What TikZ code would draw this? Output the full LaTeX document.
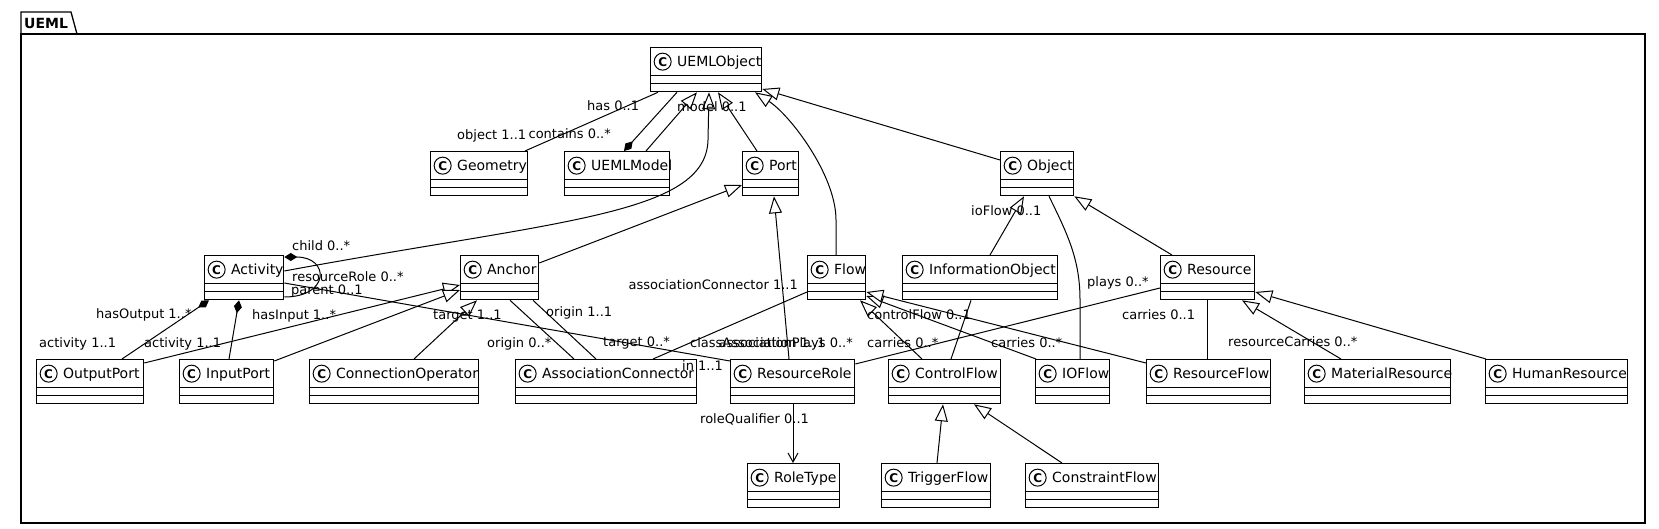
\documentclass[tikz,border=0pt]{standalone}
\usepackage{fontspec}
\setmainfont{DejaVu Sans}
\usetikzlibrary{arrows.meta,calc}
\newcommand{\umlcn}[1]{\hspace*{26.5pt}\mbox{#1}}
\tikzset{
  cls/.style={draw, line width=1.3pt, fill=white, anchor=north west,
    inner xsep=0pt, inner ysep=0pt, minimum height=44pt, text width=#1,
    align=left, text height=10pt, text depth=16pt,
    font=\fontsize{14pt}{16pt}\selectfont,
    path picture={
      \draw[line width=1.3pt] ([yshift=-28pt]path picture bounding box.north west) -- ([yshift=-28pt]path picture bounding box.north east);
      \draw[line width=1.3pt] ([yshift=-36pt]path picture bounding box.north west) -- ([yshift=-36pt]path picture bounding box.north east);
      \draw[line width=1pt, fill=white] ([xshift=12pt,yshift=-14pt]path picture bounding box.north west) circle[radius=8.5pt];
      \pgftext[at={\pgfpointadd{\pgfpointanchor{path picture bounding box}{north west}}{\pgfpoint{12pt}{-14pt}}}]{\fontsize{12pt}{12pt}\selectfont\bfseries C};
    }},
  lbl/.style={inner sep=0pt, font=\fontsize{13pt}{15pt}\selectfont, text height=9.5pt, text depth=2.5pt},
  conn/.style={line width=1pt},
  ext/.style={conn, -{Triangle[length=17pt,width=13pt,fill=white]}},
  comp/.style={conn, -{Diamond[length=13pt,width=8pt]}},
  nav/.style={conn, -{Straight Barb[length=9pt,width=10pt]}},
}
\begin{document}
\begin{tikzpicture}[x=1pt,y=-1pt]
\useasboundingbox (0,0) rectangle (1659,529);
% package frame
\draw[line width=1.3pt] (21,34) -- (21,12) -- (71,12) -- (77,34);
\draw[line width=1.3pt] (21,34) rectangle (1645,523);
\node[anchor=west, inner sep=0pt, font=\fontsize{14pt}{16pt}\selectfont\bfseries] (pkg) at (24,23) {UEML};

% classes
\node[cls=111pt] (UEMLObject) at (650,47) {\umlcn{UEMLObject}};
\node[cls=97pt] (Geometry) at (430,151) {\umlcn{Geometry}};
\node[cls=105pt] (UEMLModel) at (564,151) {\umlcn{UEMLModel}};
\node[cls=56pt] (Port) at (742,151) {\umlcn{Port}};
\node[cls=73pt] (Object) at (1000,151) {\umlcn{Object}};
\node[cls=79pt] (Activity) at (204,255) {\umlcn{Activity}};
\node[cls=78pt] (Anchor) at (460,255) {\umlcn{Anchor}};
\node[cls=58pt] (Flow) at (807,255) {\umlcn{Flow}};
\node[cls=155pt] (InformationObject) at (902,255) {\umlcn{InformationObject}};
\node[cls=94pt] (Resource) at (1160,255) {\umlcn{Resource}};
\node[cls=107pt] (OutputPort) at (36,359) {\umlcn{OutputPort}};
\node[cls=94pt] (InputPort) at (179,359) {\umlcn{InputPort}};
\node[cls=169pt] (ConnectionOperator) at (309,359) {\umlcn{ConnectionOperator}};
\node[cls=181pt] (AssociationConnector) at (515,359) {\umlcn{AssociationConnector}};
\node[cls=124pt] (ResourceRole) at (730,359) {\umlcn{ResourceRole}};
\node[cls=112pt] (ControlFlow) at (888,359) {\umlcn{ControlFlow}};
\node[cls=74pt] (IOFlow) at (1035,359) {\umlcn{IOFlow}};
\node[cls=124pt] (ResourceFlow) at (1146,359) {\umlcn{ResourceFlow}};
\node[cls=146pt] (MaterialResource) at (1304,359) {\umlcn{MaterialResource}};
\node[cls=142pt] (HumanResource) at (1485,359) {\umlcn{HumanResource}};
\node[cls=92pt] (RoleType) at (747,463) {\umlcn{RoleType}};
\node[cls=109pt] (TriggerFlow) at (881,463) {\umlcn{TriggerFlow}};
\node[cls=133pt] (ConstraintFlow) at (1025,463) {\umlcn{ConstraintFlow}};

% connectors
\draw[conn] (UEMLObject.south -| 658,0) -- (Geometry.north -| 525,0);
\draw[comp] (UEMLObject.south -| 677,0) -- (UEMLModel.north -| 624,0);
\draw[ext] (UEMLModel.north -| 646,0) -- (UEMLObject.south -| 697,0);
\draw[ext] (Activity.east |- 0,271) .. controls (560,220) and (706,215) .. (708,140) -- (UEMLObject.south -| 709,0);
\draw[ext] (Port.north -| 757,0) -- (UEMLObject.south -| 718,0);
\draw[ext] (Flow.north -| 836,0) -- (836,220) .. controls (836,175) and (790,115) .. (UEMLObject.south -| 755,0);
\draw[ext] (Object.west |- 0,160) -- (UEMLObject.east |- 0,89);
\draw[ext] (Anchor.east |- 0,263) -- (Port.west |- 0,185);
\draw[ext] (ResourceRole.north -| 789,0) -- (Port.south -| 774,0);
\draw[ext] (InformationObject.north -| 990,0) -- (Object.south -| 1024,0);
\draw[conn] (Object.south -| 1049,0) .. controls (1068,235) and (1080,260) .. (1080,300) -- (IOFlow.north -| 1080,0);
\draw[ext] (Resource.north -| 1172,0) -- (Object.south east);
\draw[ext] (MaterialResource.north -| 1341,0) -- (Resource.south -| 1242,0);
\draw[ext] (HumanResource.north -| 1486,0) -- (Resource.east |- 0,292);
\draw[conn] (Resource.south -| 1207,0) -- (ResourceFlow.north -| 1207,0);
\draw[conn] (ResourceRole.east |- 0,364) -- (Resource.west |- 0,288);
\draw[ext] (ControlFlow.north -| 922,0) -- (Flow.south -| 860,0);
\draw[ext] (IOFlow.north -| 1036,0) -- (Flow.east |- 0,296);
\draw[ext] (ResourceFlow.west |- 0,363) -- (Flow.east |- 0,292);
\draw[conn] (InformationObject.south -| 971,0) -- (ControlFlow.north -| 951,0);
\draw[conn] (AssociationConnector.north -| 653,0) -- (Flow.west |- 0,292);
\draw[conn] (Anchor.south -| 510,0) -- (AssociationConnector.north -| 574,0);
\draw[conn] (Anchor.south -| 533,0) -- (AssociationConnector.north -| 596,0);
\draw[ext] (ConnectionOperator.north -| 414,0) -- (Anchor.south -| 477,0);
\draw[ext] (OutputPort.east |- 0,363) -- (Anchor.west |- 0,285);
\draw[ext] (InputPort.east |- 0,361) -- (Anchor.west |- 0,290);
\draw[conn] (Activity.east |- 0,283) -- (ResourceRole.west |- 0,361);
\draw[comp] (Activity.east |- 0,297) .. controls (330,297) and (330,257) .. (Activity.east |- 0,257);
\draw[comp] (OutputPort.north -| 122,0) -- (Activity.south -| 209,0);
\draw[comp] (InputPort.north -| 229,0) -- (Activity.south -| 239,0);
\draw[nav] (ResourceRole.south -| 793,0) -- (RoleType.north -| 793,0);
\draw[ext] (TriggerFlow.north -| 937,0) -- (ControlFlow.south -| 943,0);
\draw[ext] (ConstraintFlow.north -| 1062,0) -- (ControlFlow.south -| 974,0);

% labels
\node[lbl, anchor=west] (l1) at (587,107) {has 0..1};
\node[lbl, anchor=west] (l2) at (457,136) {object 1..1};
\node[lbl, anchor=east] (l3) at (611,135) {contains 0..*};
\node[lbl, anchor=west] (l4) at (677,108) {model 0..1};
\node[lbl, anchor=west] (l5) at (292,247) {child 0..*};
\node[lbl, anchor=west] (l6) at (292,278) {resourceRole 0..*};
\node[lbl, anchor=west] (l7) at (291,291) {parent 0..1};
\node[lbl, anchor=west] (l8) at (96,315) {hasOutput 1..*};
\node[lbl, anchor=west] (l9) at (252,316) {hasInput 1..*};
\node[lbl, anchor=west] (l10) at (39,344) {activity 1..1};
\node[lbl, anchor=west] (l11) at (144,344) {activity 1..1};
\node[lbl, anchor=west] (l12) at (433,316) {target 1..1};
\node[lbl, anchor=west] (l13) at (546,313) {origin 1..1};
\node[lbl, anchor=west] (l14) at (487,344) {origin 0..*};
\node[lbl, anchor=east] (l15) at (798,286) {associationConnector 1..1};
\node[lbl, anchor=west] (l16) at (603,343) {target 0..*};
\node[lbl, anchor=west] (l17) at (690,344) {classAssociation 1..1};
\node[lbl, anchor=east] (l18) at (853,344) {associationPlays 0..*};
\node[lbl, anchor=west] (l19) at (682,367) {in 1..1};
\node[lbl, anchor=west] (l20) at (971,212) {ioFlow 0..1};
\node[lbl, anchor=west] (l21) at (1087,283) {plays 0..*};
\node[lbl, anchor=west] (l22) at (867,316) {controlFlow 0..1};
\node[lbl, anchor=west] (l23) at (867,344) {carries 0..*};
\node[lbl, anchor=west] (l24) at (991,344) {carries 0..*};
\node[lbl, anchor=west] (l25) at (1122,316) {carries 0..1};
\node[lbl, anchor=west] (l26) at (1228,343) {resourceCarries 0..*};
\node[lbl, anchor=west] (l27) at (700,420) {roleQualifier 0..1};
\end{tikzpicture}
\end{document}
